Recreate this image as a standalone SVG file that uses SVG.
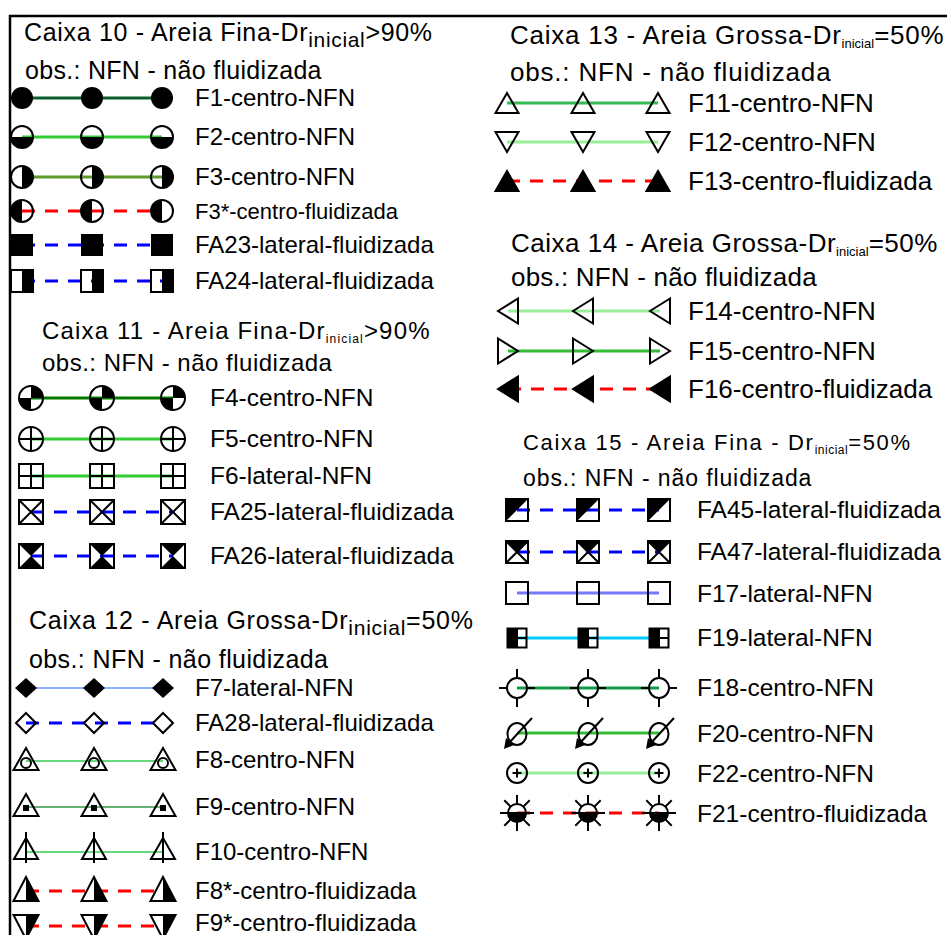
<svg xmlns="http://www.w3.org/2000/svg" width="947" height="935" viewBox="0 0 947 935">
<style>
.t{font-family:"Liberation Sans",Arial,sans-serif;fill:#000}
.l24{font-size:24px}
.l245{font-size:24.5px}
.l26{font-size:26px}
.ol{fill:none;stroke:#000;stroke-width:2}
.bk{fill:#000}
.c{fill:none;stroke-width:3}
.th{fill:none;stroke-width:1.6}
.dr{stroke:#ff0000;stroke-dasharray:13 10}
.db{stroke:#0000ff;stroke-dasharray:13 10}
</style>
<defs>
<g id="m-f1"><circle r="11" class="bk"/></g>
<g id="m-f2"><path d="M-11,0 A11,11 0 0 0 11,0 Z" class="bk"/><circle r="11" class="ol"/></g>
<g id="m-f3"><path d="M0,-11 A11,11 0 0 1 0,11 Z" class="bk"/><circle r="11" class="ol"/></g>
<g id="m-f3s"><path d="M0,-11 A11,11 0 0 0 0,11 Z" class="bk"/><circle r="11" class="ol"/></g>
<g id="m-fa23"><rect x="-11" y="-11" width="22" height="22" class="bk"/></g>
<g id="m-fa24"><rect x="0" y="-11" width="11" height="22" class="bk"/><rect x="-11" y="-11" width="22" height="22" class="ol"/></g>
<g id="m-f4"><path d="M0,0 L0,-12 A12,12 0 0 1 12,0 Z M0,0 L0,12 A12,12 0 0 1 -12,0 Z" class="bk"/><circle r="12" class="ol"/></g>
<g id="m-f5"><circle r="12" class="ol"/><path d="M-12,0 H12 M0,-12 V12" class="ol"/></g>
<g id="m-f6"><rect x="-12" y="-12" width="24" height="24" class="ol"/><path d="M-12,0 H12 M0,-12 V12" class="ol"/></g>
<g id="m-fa25"><rect x="-12" y="-12" width="24" height="24" class="ol"/><path d="M-12,-12 L12,12 M12,-12 L-12,12" class="ol"/></g>
<g id="m-fa26"><path d="M-12,-12 H12 L0,0 Z M-12,12 H12 L0,0 Z" class="bk"/><rect x="-12" y="-12" width="24" height="24" class="ol"/></g>
<g id="m-f7"><path d="M0,-10 L11,0 L0,10 L-11,0 Z" class="bk"/></g>
<g id="m-fa28"><path d="M0,-10 L10,0 L0,10 L-10,0 Z" class="ol"/></g>
<g id="m-f8"><path d="M0,-12 L12.5,10 L-12.5,10 Z" class="ol"/><circle cx="0" cy="3" r="5" class="ol"/></g>
<g id="m-f9"><path d="M0,-12 L12.5,10 L-12.5,10 Z" class="ol"/><rect x="-3" y="-1" width="6" height="6" class="bk"/></g>
<g id="m-f10"><path d="M0,-12 L12,9 L-12,9 Z" class="ol"/><path d="M0,-18 V13" class="ol"/></g>
<g id="m-f8s"><path d="M0,-13 L12.5,11 L0,11 Z" class="bk"/><path d="M0,-13 L12.5,11 L-12.5,11 Z" class="ol"/></g>
<g id="m-f9s"><path d="M0,-11 L12.5,-11 L0,13 Z" class="bk"/><path d="M-12.5,-11 L12.5,-11 L0,13 Z" class="ol"/></g>
<g id="m-tu"><path d="M0,-10 L11.5,10 L-11.5,10 Z" class="ol"/></g>
<g id="m-td"><path d="M-11.5,-10 L11.5,-10 L0,10 Z" class="ol"/></g>
<g id="m-tuf"><path d="M0,-10 L11.5,10 L-11.5,10 Z" class="bk" stroke="#000" stroke-width="2"/></g>
<g id="m-tl"><path d="M-10,0 L10,-12.5 L10,12.5 Z" class="ol"/></g>
<g id="m-tr"><path d="M10,0 L-10,-12.5 L-10,12.5 Z" class="ol"/></g>
<g id="m-tlf"><path d="M-10,0 L10,-12.5 L10,12.5 Z" class="bk" stroke="#000" stroke-width="2"/></g>
<g id="m-fa45"><path d="M-11,-11 H11 L-11,11 Z" class="bk"/><rect x="-11" y="-11" width="22" height="22" class="ol"/></g>
<g id="m-fa47"><path d="M-11,-11 H11 L0,0 Z" class="bk"/><rect x="-11" y="-11" width="22" height="22" class="ol"/><path d="M-11,-11 L11,11 M11,-11 L-11,11" class="ol"/></g>
<g id="m-f17"><rect x="-11" y="-11" width="22" height="22" class="ol" stroke-width="1.8"/></g>
<g id="m-f19"><rect x="-9.5" y="-9.5" width="9.5" height="19" class="bk"/><rect x="-9.5" y="-9.5" width="19" height="19" class="ol"/><path d="M-9.5,0 H9.5 M0,-9.5 V9.5" class="ol"/></g>
<g id="m-f18"><circle r="10" class="ol"/><path d="M0,-10 V-19 M0,10 V19 M-10,0 H-18 M10,0 H18" class="ol" stroke-width="2.5"/></g>
<g id="m-f20"><ellipse rx="9.5" ry="11" class="ol"/><path d="M15,-16 L-9,10" class="ol" stroke-width="2.5"/><path d="M-13,15 L-11,4 L-3,11 Z" class="bk"/></g>
<g id="m-f22"><circle r="10" class="ol"/><path d="M-4.5,0 H4.5 M0,-4.5 V4.5" class="ol" stroke-width="1.6"/></g>
<g id="m-f21"><path d="M-9,0 A9,9 0 0 0 9,0 Z" class="bk"/><circle r="9" class="ol"/><path d="M-17,0 H17 M0,-9 V-18 M0,9 V18 M-6.4,-6.4 L-12.7,-12.7 M6.4,-6.4 L12.7,-12.7 M-6.4,6.4 L-12.7,12.7 M6.4,6.4 L12.7,12.7" class="ol" stroke-width="2.5"/></g>
</defs>
<rect width="947" height="935" fill="#fff"/>
<path d="M10,935 V16 H947" fill="none" stroke="#000" stroke-width="2.5"/>

<g id="connectors">
<path d="M22,98 H162" class="c" stroke="#0b5e2e"/>
<path d="M22,137 H162" class="c" stroke="#33cc33"/>
<path d="M22,177 H162" class="c" stroke="#5e9a2e"/>
<path d="M22,211 H162" class="c dr"/>
<path d="M22,245 H162" class="c db"/>
<path d="M22,281 H162" class="c db"/>
<path d="M31,398 H173" class="c" stroke="#007a00"/>
<path d="M31,439 H173" class="c" stroke="#33cc33"/>
<path d="M31,476 H173" class="c" stroke="#33cc33"/>
<path d="M31,512 H173" class="c db"/>
<path d="M31,556 H173" class="c db"/>
<path d="M26,688 H163" class="th" stroke="#6699ff"/>
<path d="M26,723 H163" class="c db"/>
<path d="M26,761 H163" class="th" stroke="#33cc55"/>
<path d="M26,807 H163" class="th" stroke="#339944"/>
<path d="M26,852 H163" class="th" stroke="#33cc55"/>
<path d="M26,891 H163" class="c dr"/>
<path d="M26,926 H163" class="c dr"/>
<path d="M507,103 H658" class="c" stroke="#33bb55"/>
<path d="M507,142 H658" class="c" stroke="#99ee99"/>
<path d="M507,181 H658" class="c dr"/>
<path d="M508,311 H660" class="c" stroke="#99ee99"/>
<path d="M508,351 H660" class="c" stroke="#33bb33"/>
<path d="M508,389 H660" class="c dr"/>
<path d="M517,510 H659" class="c db"/>
<path d="M517,552 H659" class="c db"/>
<path d="M517,593 H659" class="c" stroke="#7777ff"/>
<path d="M517,638 H659" class="c" stroke="#00ccff"/>
<path d="M517,688 H659" class="c" stroke="#119944"/>
<path d="M517,733 H659" class="c" stroke="#33bb33"/>
<path d="M517,773 H659" class="c" stroke="#99ee99"/>
<path d="M517,813 H659" class="c dr"/>
</g>

<g id="caixa10">
<text class="t" x="24" y="41" font-size="25" letter-spacing="0.67">Caixa 10 - Areia Fina-Dr<tspan font-size="21" dy="6">inicial</tspan><tspan dy="-6">&gt;90%</tspan></text>
<text class="t" x="25" y="79" font-size="25" letter-spacing="0.3">obs.: NFN - não fluidizada</text>
</g>
<g id="F1"><use href="#m-f1" x="22" y="98"/><use href="#m-f1" x="92" y="98"/><use href="#m-f1" x="162" y="98"/><text class="t l24" x="195" y="106">F1-centro-NFN</text></g>
<g id="F2"><use href="#m-f2" x="22" y="137"/><use href="#m-f2" x="92" y="137"/><use href="#m-f2" x="162" y="137"/><text class="t l24" x="195" y="145">F2-centro-NFN</text></g>
<g id="F3"><use href="#m-f3" x="22" y="177"/><use href="#m-f3" x="92" y="177"/><use href="#m-f3" x="162" y="177"/><text class="t l24" x="195" y="185">F3-centro-NFN</text></g>
<g id="F3s"><use href="#m-f3s" x="22" y="211"/><use href="#m-f3s" x="92" y="211"/><use href="#m-f3s" x="162" y="211"/><text class="t" font-size="22" x="195" y="219">F3*-centro-fluidizada</text></g>
<g id="FA23"><use href="#m-fa23" x="22" y="245"/><use href="#m-fa23" x="92" y="245"/><use href="#m-fa23" x="162" y="245"/><text class="t l24" x="195" y="253">FA23-lateral-fluidizada</text></g>
<g id="FA24"><use href="#m-fa24" x="22" y="281"/><use href="#m-fa24" x="92" y="281"/><use href="#m-fa24" x="162" y="281"/><text class="t l24" x="195" y="289">FA24-lateral-fluidizada</text></g>

<g id="caixa11">
<text class="t" x="42" y="339" font-size="24" letter-spacing="1.17">Caixa 11 - Areia Fina-Dr<tspan font-size="12" dy="4">inicial</tspan><tspan dy="-4">&gt;90%</tspan></text>
<text class="t" x="42" y="371" font-size="24" letter-spacing="0.5">obs.: NFN - não fluidizada</text>
</g>
<g id="F4"><use href="#m-f4" x="31" y="398"/><use href="#m-f4" x="102" y="398"/><use href="#m-f4" x="173" y="398"/><text class="t l245" x="210" y="406">F4-centro-NFN</text></g>
<g id="F5"><use href="#m-f5" x="31" y="439"/><use href="#m-f5" x="102" y="439"/><use href="#m-f5" x="173" y="439"/><text class="t l245" x="210" y="447">F5-centro-NFN</text></g>
<g id="F6"><use href="#m-f6" x="31" y="476"/><use href="#m-f6" x="102" y="476"/><use href="#m-f6" x="173" y="476"/><text class="t l245" x="210" y="484">F6-lateral-NFN</text></g>
<g id="FA25"><use href="#m-fa25" x="31" y="512"/><use href="#m-fa25" x="102" y="512"/><use href="#m-fa25" x="173" y="512"/><text class="t l245" x="210" y="520">FA25-lateral-fluidizada</text></g>
<g id="FA26"><use href="#m-fa26" x="31" y="556"/><use href="#m-fa26" x="102" y="556"/><use href="#m-fa26" x="173" y="556"/><text class="t l245" x="210" y="564">FA26-lateral-fluidizada</text></g>

<g id="caixa12">
<text class="t" x="29" y="629" font-size="25" letter-spacing="0.74">Caixa 12 - Areia Grossa-Dr<tspan font-size="21" dy="6">inicial</tspan><tspan dy="-6">=50%</tspan></text>
<text class="t" x="29" y="668" font-size="25" letter-spacing="0.4">obs.: NFN - não fluidizada</text>
</g>
<g id="F7"><use href="#m-f7" x="26" y="688"/><use href="#m-f7" x="94" y="688"/><use href="#m-f7" x="163" y="688"/><text class="t l24" x="195" y="696">F7-lateral-NFN</text></g>
<g id="FA28"><use href="#m-fa28" x="26" y="723"/><use href="#m-fa28" x="94" y="723"/><use href="#m-fa28" x="163" y="723"/><text class="t l24" x="195" y="731">FA28-lateral-fluidizada</text></g>
<g id="F8"><use href="#m-f8" x="26" y="760"/><use href="#m-f8" x="94" y="760"/><use href="#m-f8" x="163" y="760"/><text class="t l24" x="195" y="768">F8-centro-NFN</text></g>
<g id="F9"><use href="#m-f9" x="26" y="806"/><use href="#m-f9" x="94" y="806"/><use href="#m-f9" x="163" y="806"/><text class="t l24" x="195" y="815">F9-centro-NFN</text></g>
<g id="F10"><use href="#m-f10" x="26" y="850"/><use href="#m-f10" x="94" y="850"/><use href="#m-f10" x="163" y="850"/><text class="t l24" x="195" y="860">F10-centro-NFN</text></g>
<g id="F8s"><use href="#m-f8s" x="26" y="890"/><use href="#m-f8s" x="94" y="890"/><use href="#m-f8s" x="163" y="890"/><text class="t l24" x="195" y="899">F8*-centro-fluidizada</text></g>
<g id="F9s"><use href="#m-f9s" x="26" y="926"/><use href="#m-f9s" x="94" y="926"/><use href="#m-f9s" x="163" y="926"/><text class="t l24" x="195" y="931">F9*-centro-fluidizada</text></g>

<g id="caixa13">
<text class="t" x="510" y="44" font-size="26" letter-spacing="0.75">Caixa 13 - Areia Grossa-Dr<tspan font-size="13" dy="4" letter-spacing="0">inicial</tspan><tspan dy="-4">=50%</tspan></text>
<text class="t" x="510" y="81" font-size="26" letter-spacing="0.8">obs.: NFN - não fluidizada</text>
</g>
<g id="F11"><use href="#m-tu" x="507" y="103"/><use href="#m-tu" x="583" y="103"/><use href="#m-tu" x="658" y="103"/><text class="t l26" x="688" y="112">F11-centro-NFN</text></g>
<g id="F12"><use href="#m-td" x="507" y="142"/><use href="#m-td" x="583" y="142"/><use href="#m-td" x="658" y="142"/><text class="t l26" x="688" y="151">F12-centro-NFN</text></g>
<g id="F13"><use href="#m-tuf" x="507" y="181"/><use href="#m-tuf" x="583" y="181"/><use href="#m-tuf" x="658" y="181"/><text class="t l26" x="688" y="190">F13-centro-fluidizada</text></g>

<g id="caixa14">
<text class="t" x="511" y="252" font-size="26" letter-spacing="0.5">Caixa 14 - Areia Grossa-Dr<tspan font-size="13" dy="4" letter-spacing="0">inicial</tspan><tspan dy="-4">=50%</tspan></text>
<text class="t" x="511" y="286" font-size="26" letter-spacing="0.2">obs.: NFN - não fluidizada</text>
</g>
<g id="F14"><use href="#m-tl" x="508" y="311"/><use href="#m-tl" x="583" y="311"/><use href="#m-tl" x="660" y="311"/><text class="t l26" x="688" y="320">F14-centro-NFN</text></g>
<g id="F15"><use href="#m-tr" x="508" y="351"/><use href="#m-tr" x="583" y="351"/><use href="#m-tr" x="660" y="351"/><text class="t l26" x="688" y="360">F15-centro-NFN</text></g>
<g id="F16"><use href="#m-tlf" x="508" y="389"/><use href="#m-tlf" x="583" y="389"/><use href="#m-tlf" x="660" y="389"/><text class="t l26" x="688" y="398">F16-centro-fluidizada</text></g>

<g id="caixa15">
<text class="t" x="523" y="450" font-size="22" letter-spacing="1.67">Caixa 15 - Areia Fina - Dr<tspan font-size="12" dy="4" letter-spacing="0.5">inicial</tspan><tspan dy="-4">=50%</tspan></text>
<text class="t" x="523" y="486" font-size="23" letter-spacing="0.9">obs.: NFN - não fluidizada</text>
</g>
<g id="FA45"><use href="#m-fa45" x="517" y="510"/><use href="#m-fa45" x="588" y="510"/><use href="#m-fa45" x="659" y="510"/><text class="t l245" x="697" y="518">FA45-lateral-fluidizada</text></g>
<g id="FA47"><use href="#m-fa47" x="517" y="552"/><use href="#m-fa47" x="588" y="552"/><use href="#m-fa47" x="659" y="552"/><text class="t l245" x="697" y="560">FA47-lateral-fluidizada</text></g>
<g id="F17"><use href="#m-f17" x="517" y="593"/><use href="#m-f17" x="588" y="593"/><use href="#m-f17" x="659" y="593"/><text class="t l245" x="697" y="602">F17-lateral-NFN</text></g>
<g id="F19"><use href="#m-f19" x="517" y="638"/><use href="#m-f19" x="588" y="638"/><use href="#m-f19" x="659" y="638"/><text class="t l245" x="697" y="646">F19-lateral-NFN</text></g>
<g id="F18"><use href="#m-f18" x="517" y="688"/><use href="#m-f18" x="588" y="688"/><use href="#m-f18" x="659" y="688"/><text class="t l245" x="697" y="696">F18-centro-NFN</text></g>
<g id="F20"><use href="#m-f20" x="517" y="734"/><use href="#m-f20" x="588" y="734"/><use href="#m-f20" x="659" y="734"/><text class="t l245" x="697" y="742">F20-centro-NFN</text></g>
<g id="F22"><use href="#m-f22" x="517" y="773"/><use href="#m-f22" x="588" y="773"/><use href="#m-f22" x="659" y="773"/><text class="t l245" x="697" y="782">F22-centro-NFN</text></g>
<g id="F21"><use href="#m-f21" x="517" y="813"/><use href="#m-f21" x="588" y="813"/><use href="#m-f21" x="659" y="813"/><text class="t l245" x="697" y="822">F21-centro-fluidizada</text></g>
</svg>
